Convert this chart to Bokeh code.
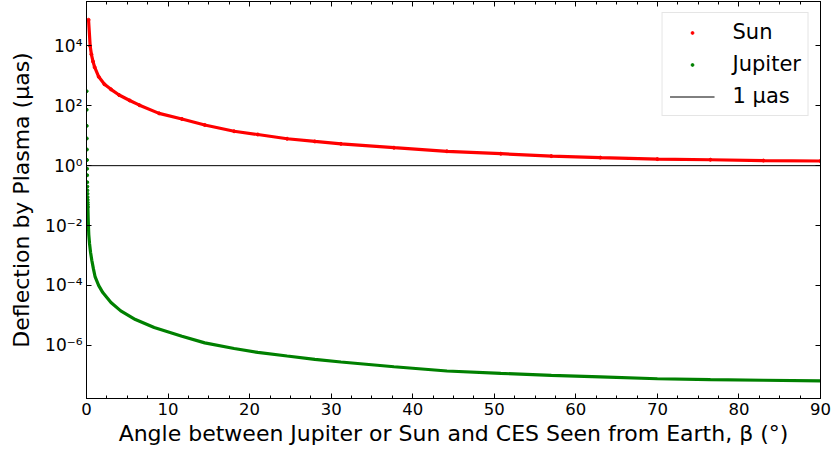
from bokeh.plotting import figure
from bokeh.models import (LinearAxis, LogAxis, FixedTicker, SingleIntervalTicker,
                          CustomJSTickFormatter, Legend, LegendItem)
from bokeh.embed import file_html
from bokeh.resources import INLINE

# ---- data ----
x_start, x_end = 0, 90
y_bottom, y_top = 1.66e-8, 3.06e5
one_uas = 1.0

sun_beta = [0.25, 0.45, 0.6, 0.8, 1.0, 1.5, 2.2, 3.0, 4.0, 5.3, 6.5, 8.9, 11.7,
            14.5, 18.1, 21.0, 24.6, 28.0, 31.2, 37.7, 44.2, 50.8, 57.0, 63.0,
            70.0, 76.5, 83.0, 90.0]
sun_defl = [75000, 10000, 5250, 3020, 1950, 933, 525, 355, 229, 151, 105, 56,
            36.3, 22.9, 14.1, 11.0, 7.94, 6.46, 5.37, 3.98, 3.02, 2.51, 2.09,
            1.86, 1.66, 1.58, 1.48, 1.43]

jup_dot_beta = [0.01, 0.02, 0.03, 0.04, 0.05, 0.06, 0.07, 0.08, 0.09, 0.10,
                0.11, 0.12, 0.13, 0.14, 0.15, 0.16, 0.17]
jup_dot_defl = [309, 74, 21.4, 8.1, 3.47, 1.55, 0.79, 0.48, 0.28, 0.20,
                0.15, 0.115, 0.089, 0.072, 0.059, 0.050, 0.042]

jup_beta = [0.17, 0.22, 0.28, 0.37, 0.5, 0.65, 0.85, 1.06, 1.5, 2.0, 3.0, 4.2,
            6.0, 8.3, 11.7, 14.5, 18.1, 21.0, 24.6, 28.0, 31.2, 37.7, 44.2,
            50.8, 57.0, 63.0, 70.0, 76.5, 83.0, 90.0]
jup_defl = [3.98e-2, 1.26e-2, 5.01e-3, 2.51e-3, 1.26e-3, 6.92e-4, 3.55e-4,
            1.91e-4, 9.77e-5, 5.75e-5, 2.69e-5, 1.41e-5, 7.24e-6, 3.89e-6,
            2.0e-6, 1.2e-6, 7.76e-7, 5.75e-7, 4.37e-7, 3.39e-7, 2.75e-7,
            1.91e-7, 1.38e-7, 1.15e-7, 9.77e-8, 8.71e-8, 7.59e-8, 7.08e-8,
            6.76e-8, 6.46e-8]

y_ticks = [1e-6, 1e-4, 1e-2, 1e0, 1e2, 1e4]

FONT = "DejaVu Sans"

p = figure(width=833, height=453, output_backend="svg", toolbar_location=None,
           x_range=(x_start, x_end), y_range=(y_bottom, y_top),
           y_axis_type="log", min_border_left=86, min_border_right=13,
           min_border_top=1, min_border_bottom=55)
p.grid.visible = False
p.outline_line_color = "black"
p.outline_line_width = 1

# curves
sun_line = p.line(sun_beta, sun_defl, line_color="#ff0000", line_width=3.2)
sun_pts = p.scatter(sun_beta, sun_defl, size=3, color="#ff0000")
jup_line = p.line(jup_beta, jup_defl, line_color="#008000", line_width=3.2)
jup_pts = p.scatter(jup_dot_beta, jup_dot_defl, size=3, color="#008000")
ref_line = p.line([x_start, x_end], [one_uas, one_uas], line_color="black", line_width=1)

xticker = SingleIntervalTicker(interval=10, num_minor_ticks=4)
yticker = FixedTicker(ticks=y_ticks, minor_ticks=[])
fmt_code = """
const e = Math.round(Math.log10(tick));
const sup = {"-":"\u207b","0":"\u2070","1":"\u00b9","2":"\u00b2","3":"\u00b3","4":"\u2074","5":"\u2075","6":"\u2076","7":"\u2077","8":"\u2078","9":"\u2079"};
return "10" + String(e).split("").map(c => sup[c]).join("");
"""

def style(ax):
    ax.axis_line_color = "black"
    ax.major_tick_line_color = "black"
    ax.minor_tick_line_color = "black"
    ax.major_tick_in = 5
    ax.major_tick_out = 0
    ax.minor_tick_in = 3
    ax.minor_tick_out = 0
    ax.major_label_text_font = FONT
    ax.major_label_text_color = "black"
    ax.axis_label_text_font = FONT
    ax.axis_label_text_font_style = "normal"
    ax.axis_label_text_color = "black"

xa = p.xaxis[0]
style(xa)
xa.ticker = xticker
xa.major_label_text_font_size = "16.5px"
xa.major_label_standoff = 4
xa.axis_label = "Angle between Jupiter or Sun and CES Seen from Earth, \u03b2 (\u00b0)"
xa.axis_label_text_font_size = "22px"
xa.axis_label_standoff = 3

ya = p.yaxis[0]
style(ya)
ya.ticker = yticker
ya.formatter = CustomJSTickFormatter(code=fmt_code)
ya.major_label_text_font_size = "17px"
ya.major_label_standoff = 4
ya.axis_label = "Deflection by Plasma (\u03bcas)"
ya.axis_label_text_font_size = "22px"
ya.axis_label_standoff = 8

blank = CustomJSTickFormatter(code="return '';")

top_ax = LinearAxis(ticker=xticker, formatter=blank)
style(top_ax)
top_ax.major_label_standoff = 0
top_ax.major_label_text_font_size = "1px"
p.add_layout(top_ax, "above")

right_ax = LogAxis(ticker=yticker, formatter=blank)
style(right_ax)
right_ax.major_label_standoff = 0
right_ax.major_label_text_font_size = "1px"
p.add_layout(right_ax, "right")

legend = Legend(items=[LegendItem(label="Sun", renderers=[sun_pts]),
                       LegendItem(label="Jupiter", renderers=[jup_pts]),
                       LegendItem(label="1 \u03bcas", renderers=[ref_line])],
                location="top_right")
legend.label_text_font = FONT
legend.label_text_font_size = "21px"
legend.label_text_color = "black"
legend.glyph_width = 45
legend.glyph_height = 7
legend.label_height = 20
legend.spacing = 8
legend.padding = 7
legend.margin = 11
legend.label_standoff = 18
legend.border_line_color = "#cccccc"
legend.border_line_width = 1
legend.background_fill_alpha = 0.8
p.add_layout(legend, "center")

open("out.html", "w").write(file_html(p, INLINE))
